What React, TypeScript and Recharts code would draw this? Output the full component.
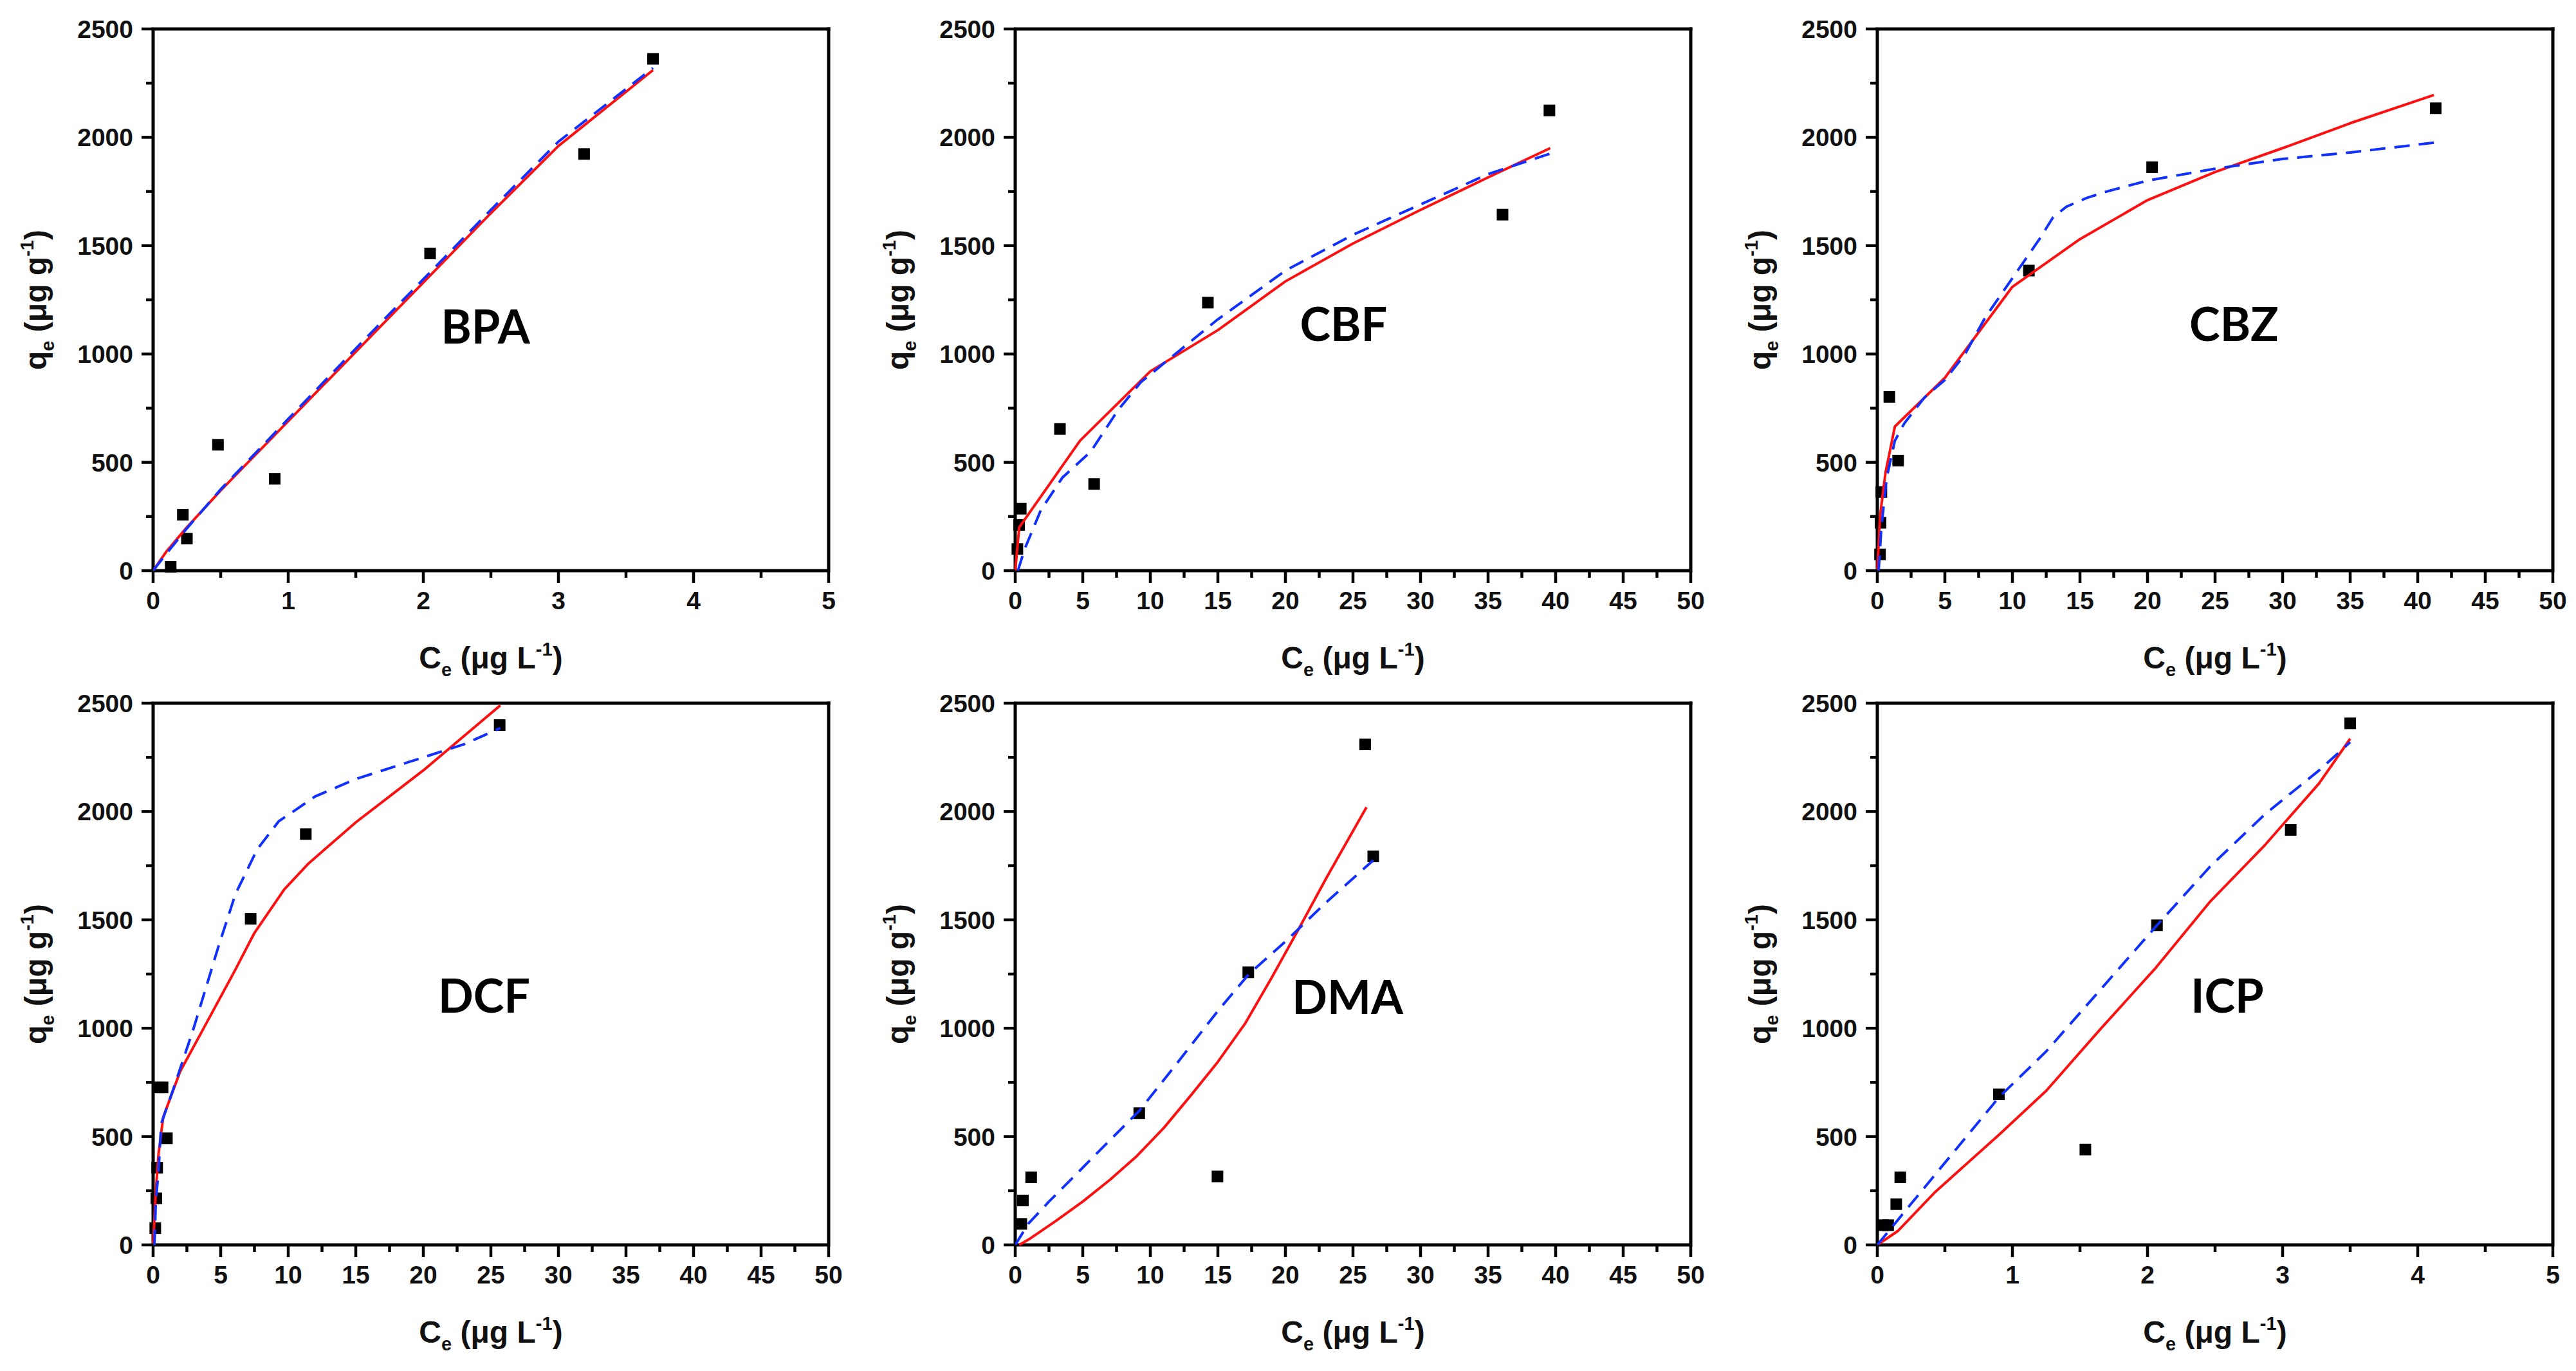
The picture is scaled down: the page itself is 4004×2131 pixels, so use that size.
import { ScatterChart, Scatter, XAxis, YAxis, ReferenceLine, ReferenceDot, Label } from 'recharts';

type Pt = [number, number];

// measured points (Ce, qe)
const BPA_POINTS: Pt[] = [[0.13, 18], [0.22, 258], [0.25, 148], [0.48, 581], [0.9, 424], [2.05, 1464], [3.19, 1923], [3.7, 2362]];
const BPA_RED: Pt[] = [[0, 0], [0.1, 90], [0.25, 200], [0.5, 370], [1, 690], [1.5, 1010], [2, 1330], [2.5, 1650], [3, 1960], [3.7, 2310]];
const BPA_BLUE: Pt[] = [[0, 0], [0.1, 80], [0.25, 195], [0.5, 375], [1, 700], [1.5, 1025], [2, 1345], [2.5, 1665], [3, 1980], [3.7, 2320]];

const CBF_POINTS: Pt[] = [[0.16, 100], [0.29, 211], [0.41, 286], [3.31, 654], [5.84, 400], [14.26, 1237], [36.07, 1643], [39.54, 2124]];
const CBF_RED: Pt[] = [[0, 0], [0.3, 200], [4.8, 600], [10, 920], [15, 1110], [20, 1335], [25, 1510], [30, 1665], [35, 1815], [39.6, 1950]];
const CBF_BLUE: Pt[] = [[0.2, 0], [0.7, 100], [1.9, 280], [3.5, 430], [5.6, 550], [7.6, 740], [9.3, 870], [15, 1160], [20, 1385], [25, 1550], [30, 1690], [35, 1830], [39.6, 1925]];

const CBZ_POINTS: Pt[] = [[0.2, 75], [0.24, 221], [0.3, 363], [0.89, 802], [1.54, 508], [11.22, 1385], [20.34, 1862], [41.33, 2134]];
const CBZ_RED: Pt[] = [[0, 0], [0.2, 250], [0.6, 450], [1.3, 665], [5, 890], [10, 1310], [15, 1530], [20, 1710], [25, 1840], [30, 1950], [35, 2065], [41.2, 2195]];
const CBZ_BLUE: Pt[] = [[0.1, 0], [0.3, 200], [0.7, 430], [1.3, 600], [2, 680], [3.5, 800], [5, 880], [6.5, 1000], [8, 1170], [10, 1350], [12, 1530], [13, 1630], [14, 1680], [15.5, 1720], [17, 1750], [20, 1800], [25, 1855], [30, 1900], [35, 1930], [41.2, 1975]];

const DCF_POINTS: Pt[] = [[0.16, 77], [0.24, 215], [0.3, 356], [0.4, 727], [0.7, 727], [1.02, 492], [7.22, 1505], [11.3, 1896], [25.65, 2399]];
const DCF_RED: Pt[] = [[0, 0], [0.2, 250], [0.4, 420], [0.75, 590], [2, 800], [4, 1030], [6, 1260], [7.5, 1440], [9.7, 1640], [11.5, 1760], [15, 1950], [20, 2190], [25.7, 2490]];
const DCF_BLUE: Pt[] = [[0.1, 0], [0.2, 200], [0.4, 340], [0.6, 560], [1.5, 720], [3, 1000], [4.85, 1380], [6.1, 1620], [7.7, 1825], [9.3, 1955], [10.6, 2010], [12, 2070], [15, 2150], [19, 2230], [23, 2310], [25.7, 2385]];

const DMA_POINTS: Pt[] = [[0.45, 97], [0.57, 205], [1.18, 312], [9.18, 608], [14.97, 316], [17.25, 1258], [25.9, 2310], [26.5, 1793]];
const DMA_RED: Pt[] = [[0.3, 0], [1, 25], [3, 110], [5, 200], [7, 300], [9, 410], [11, 540], [13, 690], [15, 845], [17, 1020], [19, 1235], [21, 1460], [23, 1690], [26, 2020]];
const DMA_BLUE: Pt[] = [[0, 0], [1, 100], [2.5, 200], [4.2, 306], [6, 420], [9.2, 620], [12, 840], [15, 1080], [17.3, 1250], [20, 1400], [23, 1580], [26.5, 1775]];

const ICP_POINTS: Pt[] = [[0.04, 91], [0.08, 91], [0.14, 188], [0.17, 312], [0.9, 695], [1.54, 440], [2.07, 1475], [3.06, 1915], [3.5, 2407]];
const ICP_RED: Pt[] = [[0, 0], [0.15, 63], [0.43, 245], [0.9, 508], [1.25, 711], [1.65, 995], [2.06, 1278], [2.46, 1582], [2.87, 1846], [3.27, 2130], [3.5, 2336]];
const ICP_BLUE: Pt[] = [[0, 0], [0.19, 144], [0.43, 326], [0.9, 681], [1.25, 893], [1.65, 1177], [2.07, 1475], [2.46, 1744], [2.87, 1988], [3.27, 2190], [3.5, 2320]];

// ticks
const X_TICKS_5 = [0, 0.5, 1, 1.5, 2, 2.5, 3, 3.5, 4, 4.5, 5];
const X_LABELS_5 = [0, 1, 2, 3, 4, 5];
const X_TICKS_50 = [0, 2.5, 5, 7.5, 10, 12.5, 15, 17.5, 20, 22.5, 25, 27.5, 30, 32.5, 35, 37.5, 40, 42.5, 45, 47.5, 50];
const X_LABELS_50 = [0, 5, 10, 15, 20, 25, 30, 35, 40, 45, 50];
const Y_TICKS = [0, 250, 500, 750, 1000, 1250, 1500, 1750, 2000, 2250, 2500];
const Y_LABELS = [0, 500, 1000, 1500, 2000, 2500];

const RED = '#ff1010';
const BLUE = '#1030ff';

const PLOT_W = 1050;
const PLOT_H = 842;
const PAD_L = 240;
const PAD_T = 30;
const PAD_R = 30;
const PAD_B = 200;

const TICK_FONT = { fontFamily: '"Liberation Sans", Arial, sans-serif', fontWeight: 700, fontSize: 39, fill: '#111' };
const TITLE_FONT = { fontFamily: '"Liberation Sans", Arial, sans-serif', fontWeight: 700, fontSize: 48, fill: '#111' };

const toRows = (pts: Pt[]) => pts.map(([x, y]) => ({ x, y }));

function XTick(props: any) {
  const { x, y, payload, labels } = props;
  const major = labels.includes(payload.value);
  return (
    <g>
      <line x1={x} x2={x} y1={y} y2={y + (major ? 19 : 11)} stroke="#000" strokeWidth={4.5} />
      {major && (
        <text x={x} y={y + 60} textAnchor="middle" {...TICK_FONT}>
          {payload.value}
        </text>
      )}
    </g>
  );
}

function YTick(props: any) {
  const { x, y, payload } = props;
  const major = Y_LABELS.includes(payload.value);
  return (
    <g>
      <line x1={x - (major ? 18 : 11)} x2={x} y1={y} y2={y} stroke="#000" strokeWidth={4.5} />
      {major && (
        <text x={x - 31} y={y + 14} textAnchor="end" {...TICK_FONT}>
          {payload.value}
        </text>
      )}
    </g>
  );
}

function XTitle(props: any) {
  const vb = props.viewBox;
  return (
    <text x={vb.x + vb.width / 2} y={vb.y + 152} textAnchor="middle" {...TITLE_FONT}>
      C<tspan dy={12} fontSize={29}>e</tspan>
      <tspan dy={-12}> (μg L</tspan>
      <tspan dy={-20} fontSize={29}>-1</tspan>
      <tspan dy={20}>)</tspan>
    </text>
  );
}

function YTitle(props: any) {
  const vb = props.viewBox;
  const x = vb.x + vb.width - 166;
  const y = vb.y + vb.height / 2;
  return (
    <text x={x} y={y} textAnchor="middle" transform={`rotate(-90, ${x}, ${y})`} {...TITLE_FONT}>
      q<tspan dy={12} fontSize={29}>e</tspan>
      <tspan dy={-12}> (μg g</tspan>
      <tspan dy={-20} fontSize={29}>-1</tspan>
      <tspan dy={20}>)</tspan>
    </text>
  );
}

interface PanelProps {
  name: string;
  left: number;
  top: number;
  xMax: number;
  xTicks: number[];
  xLabels: number[];
  points: Pt[];
  red: Pt[];
  blue: Pt[];
  nameAt: Pt;
}

function Panel({ name, left, top, xMax, xTicks, xLabels, points, red, blue, nameAt }: PanelProps) {
  return (
    <div style={{ position: 'absolute', left: left - PAD_L, top: top - PAD_T }}>
      <ScatterChart
        width={PLOT_W + PAD_L + PAD_R}
        height={PLOT_H + PAD_T + PAD_B}
        margin={{ top: PAD_T, right: PAD_R, left: 0, bottom: 0 }}
      >
        <XAxis
          type="number"
          dataKey="x"
          domain={[0, xMax]}
          ticks={xTicks}
          interval={0}
          height={PAD_B}
          axisLine={{ stroke: '#000', strokeWidth: 5 }}
          tickLine={false}
          tickSize={0}
          tickMargin={0}
          tick={(p: any) => <XTick {...p} labels={xLabels} />}
        >
          <Label content={XTitle} />
        </XAxis>
        <YAxis
          type="number"
          dataKey="y"
          domain={[0, 2500]}
          ticks={Y_TICKS}
          interval={0}
          width={PAD_L}
          axisLine={{ stroke: '#000', strokeWidth: 5 }}
          tickLine={false}
          tickSize={0}
          tickMargin={0}
          tick={(p: any) => <YTick {...p} />}
        >
          <Label content={YTitle} />
        </YAxis>
        <ReferenceLine y={2500} stroke="#000" strokeWidth={5} strokeLinecap="square" />
        <ReferenceLine x={xMax} stroke="#000" strokeWidth={5} strokeLinecap="square" />
        <Scatter
          data={toRows(points)}
          isAnimationActive={false}
          fill="#000"
          shape={(p: any) => <rect x={p.cx - 9} y={p.cy - 9} width={18} height={18} fill="#000" />}
        />
        <Scatter
          data={toRows(red)}
          isAnimationActive={false}
          fill={RED}
          line={{ stroke: RED, strokeWidth: 4, strokeLinejoin: 'round' }}
          shape={() => <g />}
        />
        <Scatter
          data={toRows(blue)}
          isAnimationActive={false}
          fill={BLUE}
          line={{ stroke: BLUE, strokeWidth: 4, strokeDasharray: '24 14' }}
          shape={() => <g />}
        />
        <ReferenceDot
          x={nameAt[0]}
          y={nameAt[1]}
          r={1}
          fill="none"
          stroke="none"
          label={{ value: name, position: 'center', fontSize: 72, fontWeight: 700, fontFamily: 'Lato, "Open Sans", sans-serif', fill: '#000' }}
        />
      </ScatterChart>
    </div>
  );
}

const COL_LEFT = [238, 1578, 2918];
const ROW_TOP = [45, 1093];

export default function App() {
  return (
    <div style={{ position: 'absolute', left: 0, top: 0, width: 4004, height: 2131, background: '#fff', overflow: 'hidden' }}>
      <Panel name="BPA" left={COL_LEFT[0]} top={ROW_TOP[0]} xMax={5} xTicks={X_TICKS_5} xLabels={X_LABELS_5} points={BPA_POINTS} red={BPA_RED} blue={BPA_BLUE} nameAt={[2.46, 1125]} />
      <Panel name="CBF" left={COL_LEFT[1]} top={ROW_TOP[0]} xMax={50} xTicks={X_TICKS_50} xLabels={X_LABELS_50} points={CBF_POINTS} red={CBF_RED} blue={CBF_BLUE} nameAt={[24.3, 1135]} />
      <Panel name="CBZ" left={COL_LEFT[2]} top={ROW_TOP[0]} xMax={50} xTicks={X_TICKS_50} xLabels={X_LABELS_50} points={CBZ_POINTS} red={CBZ_RED} blue={CBZ_BLUE} nameAt={[26.4, 1135]} />
      <Panel name="DCF" left={COL_LEFT[0]} top={ROW_TOP[1]} xMax={50} xTicks={X_TICKS_50} xLabels={X_LABELS_50} points={DCF_POINTS} red={DCF_RED} blue={DCF_BLUE} nameAt={[24.5, 1147]} />
      <Panel name="DMA" left={COL_LEFT[1]} top={ROW_TOP[1]} xMax={50} xTicks={X_TICKS_50} xLabels={X_LABELS_50} points={DMA_POINTS} red={DMA_RED} blue={DMA_BLUE} nameAt={[24.6, 1142]} />
      <Panel name="ICP" left={COL_LEFT[2]} top={ROW_TOP[1]} xMax={5} xTicks={X_TICKS_5} xLabels={X_LABELS_5} points={ICP_POINTS} red={ICP_RED} blue={ICP_BLUE} nameAt={[2.59, 1147]} />
    </div>
  );
}
